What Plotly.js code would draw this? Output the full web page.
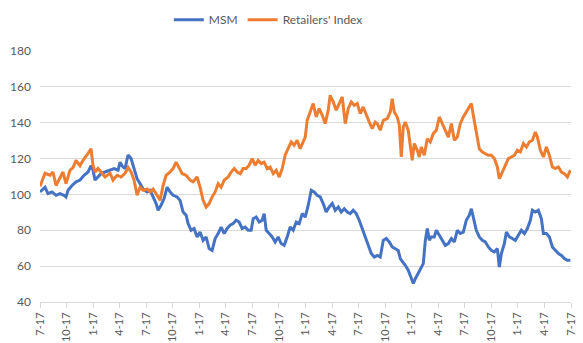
<!DOCTYPE html>
<html>
<head>
<meta charset="utf-8">
<script src="https://cdn.plot.ly/plotly-3.0.1.min.js"></script>
<style>html,body{margin:0;padding:0;background:#fff;}#chart{width:583px;height:343px;}</style>
</head>
<body>
<div id="chart"></div>
<script>
// x positions are months since the first tick (0 .. 60)
const tickLabels = ["7-17","10-17","1-17","4-17","7-17","10-17","1-17","4-17","7-17","10-17","1-17","4-17","7-17","10-17","1-17","4-17","7-17","10-17","1-17","4-17","7-17"];
const tickMonths = [0,3,6,9,12,15,18,21,24,27,30,33,36,39,42,45,48,51,54,57,60];

const msmMonths = [0,0.57,0.90,1.36,1.81,2.26,2.71,2.94,3.17,3.62,4.07,4.52,4.98,5.43,5.77,5.99,6.22,6.56,6.90,7.35,7.92,8.37,8.82,9.05,9.27,9.61,9.95,10.29,10.63,10.97,11.31,11.65,12.10,12.44,12.78,13.12,13.34,13.68,14.02,14.36,14.70,15.04,15.49,15.83,16.17,16.51,16.74,17.08,17.41,17.75,18.09,18.43,18.77,19.11,19.45,19.79,20.13,20.47,20.81,21.15,21.48,21.82,22.16,22.50,22.84,23.18,23.52,23.86,24.09,24.43,24.77,25.10,25.33,25.56,25.90,26.24,26.57,26.91,27.25,27.59,27.93,28.27,28.61,28.95,29.29,29.63,29.97,30.31,30.65,30.98,31.32,31.66,32.00,32.34,32.68,33.02,33.36,33.70,34.04,34.38,34.72,35.05,35.39,35.73,36.07,36.41,36.75,37.09,37.43,37.77,38.11,38.45,38.79,39.13,39.47,39.80,40.14,40.48,40.71,41.05,41.27,41.61,41.95,42.18,42.41,42.74,43.08,43.31,43.54,43.76,43.99,44.21,44.55,44.78,45.12,45.46,45.80,46.14,46.48,46.82,47.15,47.49,47.83,48.17,48.51,48.74,48.96,49.30,49.64,49.98,50.32,50.66,51.00,51.34,51.68,51.90,52.13,52.47,52.70,53.04,53.37,53.71,54.05,54.39,54.73,55.07,55.41,55.64,55.97,56.31,56.65,56.88,57.22,57.56,57.89,58.24,58.58,58.92,59.25,59.59,59.93];
const msmValues = [101.4,104,100.5,101.4,99.5,100.5,99.5,98.6,102.3,105,107,108,110.7,112.5,116,113.5,108,109.7,111.6,112.5,113.5,114.4,113.5,118,116,114.4,122,120,114.4,108.8,106,103,101.4,102.3,98.6,94.9,91.2,94,97.7,104,101.4,99.5,98.6,96.7,90.2,88.4,83.7,80,81,76.3,79,74.4,76.3,69.8,68.8,75.4,78.2,81.8,78.2,81,82.8,83.7,85.6,84.6,81,81.8,80,80,86.5,87.4,84.6,85.6,89.3,80,78.2,76.3,73.5,76.3,72.6,71.6,76.3,81.8,80,84.6,83.7,89.3,87.4,94,102.3,101.4,99.5,98.6,94.9,90.2,93,94.9,91.2,93,90.2,92,90.2,89.3,91.2,89.3,85.6,81,76.3,70.7,67,65.1,66,65.1,74.4,75.4,73.5,70.7,69.8,68.8,64.2,62.3,60.5,57.7,53,50.3,53,55.8,59.5,61.4,74.4,81,74.4,76.3,76.3,80,77.2,74.4,71.6,72.6,75.4,73.5,80,78.2,79,85.6,88.4,92,87.4,80,76.3,74.4,73.5,70.7,68.8,67.9,69.8,59.5,67,72.6,79,76.3,75.4,74.4,77.2,80,78.2,81,85.6,91.2,90.2,91.2,86.5,78.2,78.2,76.3,70.7,68.8,67,66,64.2,63.3,63.3];

const retMonths = [0,0.57,1.13,1.47,1.81,2.26,2.60,2.94,3.39,3.73,4.07,4.52,4.86,5.31,5.77,5.99,6.22,6.56,6.90,7.35,7.92,8.25,8.71,9.16,9.61,9.95,10.29,10.63,10.97,11.31,11.65,12.10,12.44,12.78,13.23,13.57,13.91,14.25,14.70,15.04,15.38,15.72,16.06,16.51,16.96,17.30,17.75,18.09,18.43,18.77,19.11,19.45,19.79,20.13,20.47,20.81,21.26,21.60,21.94,22.28,22.62,22.96,23.29,23.63,23.97,24.31,24.65,24.99,25.33,25.67,26.01,26.35,26.69,27.03,27.37,27.71,28.04,28.38,28.72,29.06,29.40,29.74,29.97,30.19,30.53,30.87,31.21,31.55,31.89,32.23,32.57,32.79,33.13,33.47,33.81,34.15,34.49,34.83,35.17,35.51,35.85,36.19,36.52,36.86,37.20,37.54,37.88,38.11,38.45,38.79,39.24,39.58,39.80,40.03,40.37,40.60,40.82,41.05,41.27,41.61,41.84,42.06,42.29,42.63,42.86,43.08,43.42,43.76,44.10,44.44,44.78,45.12,45.46,45.80,46.14,46.48,46.82,47.15,47.49,47.83,48.17,48.51,48.74,48.96,49.30,49.64,49.98,50.32,50.66,51.00,51.34,51.68,51.90,52.24,52.58,52.92,53.26,53.60,53.94,54.28,54.62,54.96,55.30,55.64,55.97,56.20,56.54,56.88,57.22,57.56,57.89,58.24,58.58,58.92,59.25,59.59,59.93];
const retValues = [104.5,111.8,110.7,112.5,105,109,112.5,106,113.5,115,119,116,119,122,125.5,116,112.5,114.5,112.5,109.7,111.8,108,110.7,109.7,111.8,115,112.5,108,99.5,104,102.3,103,101.4,103,99.5,96.7,105,110.7,112.5,114.4,118,115,111.6,110.7,108,107,109.7,104,96.7,93,94.9,98.6,101.4,106,104,108,109.7,112.5,114.4,112.5,111.6,114.4,114.4,116.3,120,116.3,119,117.2,118,114.4,115.3,111.6,113.5,109.7,114.4,122,125.5,129.3,127.4,130.2,125.5,129.3,132,141.3,146,150.7,143.2,147.9,144.1,139.5,147,155.3,151.6,147,150.7,154.4,139.5,147.9,151.6,149.7,150.7,145.1,148.8,144.1,140.4,136.7,140.4,139.5,135.8,141.3,142.3,146,153.4,146,143.2,138.6,120.9,137.6,140.4,135.8,128.4,119,128.4,124.6,120.9,126.5,121.8,131.1,129.3,133.9,135.8,143.2,139.5,135.8,132,139.5,130.2,132,139.5,143.2,146,148.8,150.7,144.1,135.8,125.5,123.7,122.8,121.8,121.8,120,115.3,108.8,112.5,116.3,120,120.9,121.8,124.6,123.7,128.4,126.5,129.3,130.2,134.8,132,124.6,120.9,126.5,121.8,115.3,114.4,115.3,112.5,111.6,109.7,113.5];

const traces = [
  {x: msmMonths, y: msmValues, name: "MSM", type: "scatter", mode: "lines",
   line: {color: "#4472C4", width: 3}},
  {x: retMonths, y: retValues, name: "Retailers' Index", type: "scatter", mode: "lines",
   line: {color: "#ED7D31", width: 3}}
];

const layout = {
  width: 583, height: 343,
  margin: {l: 40, r: 12, t: 51, b: 41, autoexpand: false},
  paper_bgcolor: "#ffffff", plot_bgcolor: "#ffffff",
  font: {family: "Lato, 'Open Sans', sans-serif", size: 12, color: "#595959"},
  showlegend: true,
  legend: {orientation: "h", x: 0.43, xanchor: "center", y: 1.125, yanchor: "middle",
           font: {size: 12, color: "#595959"}, itemwidth: 30, tracegroupgap: 0},
  xaxis: {range: [0, 60], tickmode: "array", tickvals: tickMonths, ticktext: tickLabels,
          tickangle: -90, showgrid: false, zeroline: false, showline: true,
          linecolor: "#d9d9d9", linewidth: 1, ticks: "outside", ticklen: 5, tickcolor: "#d9d9d9",
          tickfont: {size: 11, color: "#595959"}, fixedrange: true},
  yaxis: {range: [40, 180], dtick: 20, tick0: 40, showgrid: true, gridcolor: "#d9d9d9",
          gridwidth: 1, zeroline: false, showline: false, ticks: "",
          ticklabelstandoff: 8, tickfont: {size: 12, color: "#595959"}, fixedrange: true}
};

Plotly.newPlot("chart", traces, layout, {displayModeBar: false, staticPlot: true});
</script>
</body>
</html>
